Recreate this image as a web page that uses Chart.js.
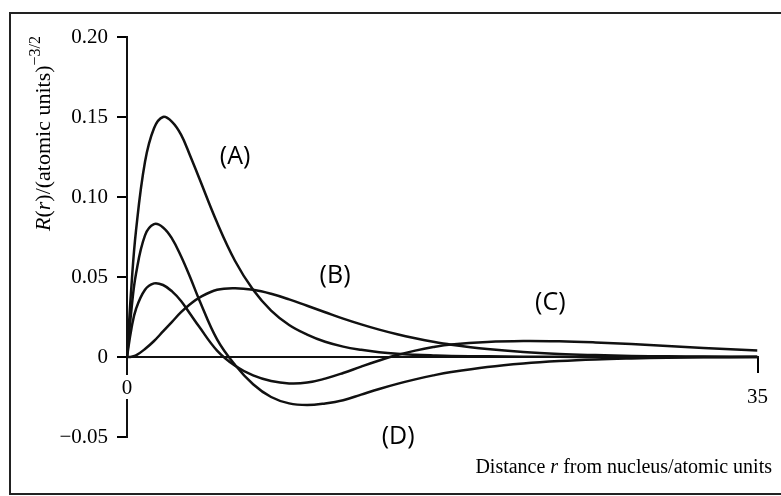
<!DOCTYPE html>
<html>
<head>
<meta charset="utf-8">
<script src="https://cdn.jsdelivr.net/npm/chart.js@4.4.1/dist/chart.umd.min.js"></script>
<style>
  body { margin: 0; background: #fff; }
  canvas { display: block; }
</style>
</head>
<body>
<canvas id="chart" width="781" height="496"></canvas>
<script>
const rValues = [0, 0.25, 0.5, 1, 1.5, 2, 2.5, 3, 3.5, 4, 5, 6, 7, 8, 9, 10, 11, 12, 13, 14, 15, 16, 17, 18, 20, 22, 24, 26, 28, 30, 32, 35];

// R(r) for each curve
const curveA = [0, 0.045, 0.079, 0.122, 0.143, 0.150, 0.147, 0.139, 0.126, 0.112, 0.084, 0.060, 0.042, 0.029, 0.020, 0.014, 0.0095, 0.0065, 0.0045, 0.003, 0.002, 0.0014, 0.001, 0.0007, 0.0004, 0.0002, 0.0001, 0, 0, 0, 0, 0];
const curveB = [0, 0.0002, 0.001, 0.005, 0.010, 0.016, 0.022, 0.028, 0.033, 0.037, 0.042, 0.043, 0.042, 0.0395, 0.036, 0.032, 0.028, 0.024, 0.0204, 0.0171, 0.0142, 0.0117, 0.0095, 0.0077, 0.005, 0.0031, 0.0019, 0.0012, 0.0007, 0.0004, 0.0003, 0.0001];
const curveC = [0, 0.018, 0.030, 0.042, 0.046, 0.045, 0.041, 0.035, 0.027, 0.019, 0.004, -0.0055, -0.0115, -0.015, -0.0165, -0.016, -0.0135, -0.010, -0.006, -0.0022, 0.0012, 0.004, 0.0062, 0.0078, 0.0094, 0.010, 0.0098, 0.0091, 0.0081, 0.0069, 0.0056, 0.004];
const curveD = [0, 0.030, 0.052, 0.076, 0.083, 0.081, 0.074, 0.063, 0.050, 0.036, 0.011, -0.005, -0.017, -0.025, -0.029, -0.030, -0.029, -0.027, -0.0235, -0.020, -0.0168, -0.014, -0.0115, -0.0094, -0.0062, -0.004, -0.0025, -0.0015, -0.0009, -0.0005, -0.0002, 0];

const yTicks = [-0.05, 0, 0.05, 0.10, 0.15, 0.20];
const yTickLabels = ['\u22120.05', '0', '0.05', '0.10', '0.15', '0.20'];
const xTicks = [0, 35];

// curve names and where they sit (r, R)
const curveNames = ['(A)', '(B)', '(C)', '(D)'];
const nameR = [6.0, 11.55, 23.5, 15.05];
const nameY = [0.125, 0.051, 0.034, -0.050];

const serif = '"Liberation Serif", "Times New Roman", serif';

function toPoints(ys) {
    return rValues.map((r, i) => ({ x: r, y: ys[i] }));
}

function curve(ys) {
    return {
        data: toPoints(ys),
        borderColor: '#111',
        borderWidth: 2.5,
        pointRadius: 0,
        fill: false,
        tension: 0.4
    };
}

// draws a row of text pieces, each with its own font and baseline shift
function drawRuns(ctx, runs, x, y) {
    let cx = x;
    runs.forEach(run => {
        ctx.font = run.font;
        ctx.fillText(run.text, cx, y + (run.dy || 0));
        cx += ctx.measureText(run.text).width;
    });
    return cx - x;
}

function runsWidth(ctx, runs) {
    let w = 0;
    runs.forEach(run => {
        ctx.font = run.font;
        w += ctx.measureText(run.text).width;
    });
    return w;
}

const decorations = {
    id: 'decorations',
    afterDraw(chart) {
        const ctx = chart.ctx;
        const xs = chart.scales.x;
        const ys = chart.scales.y;
        ctx.save();

        // scanned page frame
        ctx.strokeStyle = '#222';
        ctx.lineWidth = 2;
        ctx.beginPath();
        ctx.moveTo(790, 13);
        ctx.lineTo(10, 13);
        ctx.lineTo(10, 494);
        ctx.lineTo(790, 494);
        ctx.stroke();

        // origin label breaks the y axis line
        const x0 = xs.getPixelForValue(0);
        const y0 = ys.getPixelForValue(0);
        ctx.fillStyle = '#fff';
        ctx.fillRect(x0 - 6, y0 + 18, 12, 24);
        ctx.fillStyle = '#000';
        ctx.textAlign = 'center';
        ctx.textBaseline = 'middle';
        ctx.font = '21px ' + serif;
        ctx.fillText('0', x0, y0 + 31);

        // curve names
        ctx.font = '25px "Open Sans", sans-serif';
        curveNames.forEach((name, i) => {
            ctx.fillText(name, xs.getPixelForValue(nameR[i]), ys.getPixelForValue(nameY[i]));
        });

        // y axis title, rotated
        ctx.textAlign = 'left';
        ctx.textBaseline = 'alphabetic';
        const yTitle = [
            { text: 'R', font: 'italic 22px ' + serif },
            { text: '(', font: '22px ' + serif },
            { text: 'r', font: 'italic 22px ' + serif },
            { text: ')/(atomic units)', font: '22px ' + serif },
            { text: '\u22123/2', font: '16px ' + serif, dy: -10 }
        ];
        ctx.save();
        ctx.translate(50, 231);
        ctx.rotate(-Math.PI / 2);
        drawRuns(ctx, yTitle, 0, 0);
        ctx.restore();

        // x axis title, right aligned
        const xTitle = [
            { text: 'Distance ', font: '20px ' + serif },
            { text: 'r', font: 'italic 20px ' + serif },
            { text: ' from nucleus/atomic units', font: '20px ' + serif }
        ];
        drawRuns(ctx, xTitle, 772 - runsWidth(ctx, xTitle), 473);

        ctx.restore();
    }
};

new Chart(document.getElementById('chart'), {
    type: 'line',
    data: {
        datasets: [curve(curveA), curve(curveB), curve(curveC), curve(curveD)]
    },
    options: {
        responsive: false,
        animation: false,
        devicePixelRatio: 1,
        layout: { padding: { left: 10, right: 18, top: 37, bottom: 59 } },
        plugins: {
            legend: { display: false },
            tooltip: { enabled: false }
        },
        scales: {
            x: {
                type: 'linear',
                min: 0,
                max: 35,
                position: { y: 0 },
                afterFit: s => { s.height = 0; },
                afterBuildTicks: s => { s.ticks = xTicks.map(v => ({ value: v })); },
                grid: { display: true, drawOnChartArea: false, drawTicks: true, tickLength: 15, color: '#000', lineWidth: 2 },
                border: { display: true, color: '#111', width: 2 },
                ticks: {
                    color: '#000',
                    padding: 13,
                    maxRotation: 0,
                    font: { family: serif, size: 21 },
                    callback: v => (v === 0 ? '' : String(v))
                }
            },
            y: {
                min: -0.05,
                max: 0.2,
                afterFit: s => { s.width = 117; },
                afterBuildTicks: s => { s.ticks = yTicks.map(v => ({ value: v })); },
                grid: { display: true, drawOnChartArea: false, drawTicks: true, tickLength: 10, color: '#000', lineWidth: 2 },
                border: { display: true, color: '#111', width: 2 },
                ticks: {
                    color: '#000',
                    padding: 9,
                    font: { family: serif, size: 21 },
                    callback: v => yTickLabels[yTicks.indexOf(v)]
                }
            }
        }
    },
    plugins: [decorations]
});
</script>
</body>
</html>
